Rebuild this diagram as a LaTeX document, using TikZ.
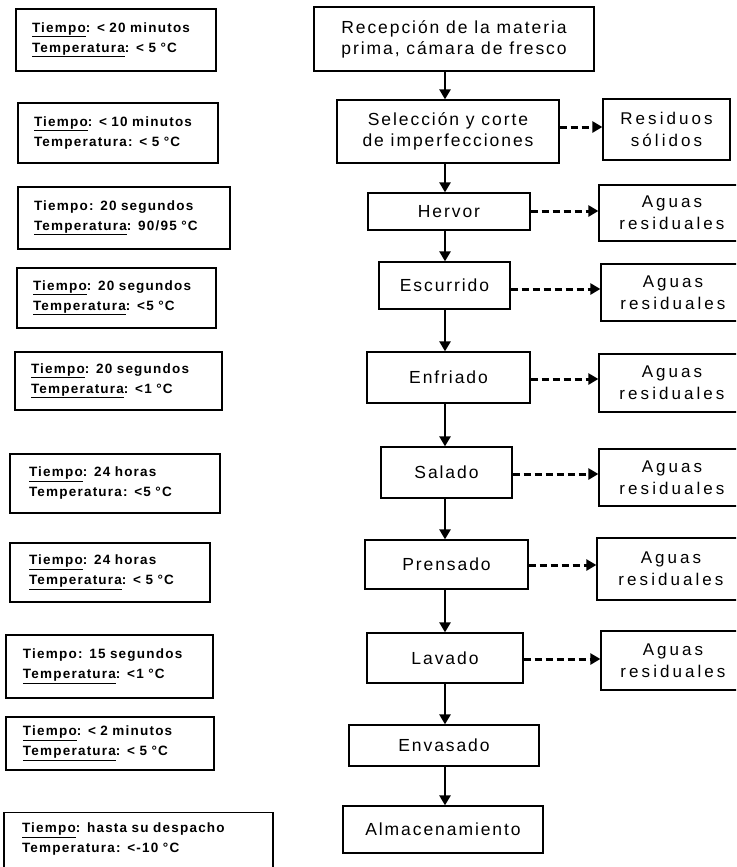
\documentclass[tikz,border=0pt]{standalone}
\usepackage{fontspec}
\setmainfont{Liberation Sans}
\newfontfamily\leftfont[LetterSpace=9]{Liberation Sans}
\newfontfamily\centerfont[LetterSpace=11]{Liberation Sans}
\newfontfamily\rightfont[LetterSpace=18]{Liberation Sans}
\usetikzlibrary{arrows.meta}
\tikzset{
  box/.style={draw, line width=1.3pt, rectangle, inner sep=0pt},
  procbox/.style={box, align=center, font=\centerfont\fontsize{17.5}{21}\selectfont},
  wastebox/.style={box, align=center, font=\rightfont\fontsize{17}{22}\selectfont},
  condbox/.style={box, align=left, inner xsep=16pt, font=\leftfont\bfseries\fontsize{13.5}{20}\selectfont},
  flow/.style={line width=2.6pt, -{Triangle[length=10pt,width=11pt]}},
  wasteflow/.style={line width=3pt, dash pattern=on 7pt off 4pt, -{Triangle[length=10pt,width=11pt]}}
}
\begin{document}
\begin{tikzpicture}[x=1pt,y=-1pt]
\useasboundingbox (0,0) rectangle (736,867);
\clip (0,0) rectangle (736,867);
% process column
\node[procbox, minimum width=280pt, minimum height=64pt] (c1) at (454,39) {Recepción de la materia\\prima, cámara de fresco};
\node[procbox, minimum width=222pt, minimum height=63pt] (c2) at (448,131.5) {Selección y corte\\de imperfecciones};
\node[procbox, minimum width=162pt, minimum height=37pt] (c3) at (449,211.5) {Hervor};
\node[procbox, minimum width=131pt, minimum height=47pt] (c4) at (444.5,285.5) {Escurrido};
\node[procbox, minimum width=163pt, minimum height=51pt] (c5) at (448.5,377.5) {Enfriado};
\node[procbox, minimum width=131pt, minimum height=51pt] (c6) at (446.5,472.5) {Salado};
\node[procbox, minimum width=163pt, minimum height=49pt] (c7) at (446.5,564.5) {Prensado};
\node[procbox, minimum width=156pt, minimum height=50pt] (c8) at (445,658) {Lavado};
\node[procbox, minimum width=190pt, minimum height=41pt] (c9) at (444,745.5) {Envasado};
\node[procbox, minimum width=200pt, minimum height=47pt] (c10) at (443,829.5) {Almacenamiento};
% waste column
\node[wastebox, minimum width=127pt, minimum height=61pt] (r1) at (666.5,129.5) {Residuos\\sólidos};
\node[wastebox, minimum width=146pt, minimum height=56pt] (r2) at (672,213) {Aguas\\residuales};
\node[wastebox, minimum width=144pt, minimum height=57pt] (r3) at (673,292.5) {Aguas\\residuales};
\node[wastebox, minimum width=146pt, minimum height=58pt] (r4) at (672,383) {Aguas\\residuales};
\node[wastebox, minimum width=146pt, minimum height=57pt] (r5) at (672,477.5) {Aguas\\residuales};
\node[wastebox, minimum width=148pt, minimum height=62pt] (r6) at (671,569) {Aguas\\residuales};
\node[wastebox, minimum width=144pt, minimum height=59pt] (r7) at (673,660.5) {Aguas\\residuales};
% condition column
\node[condbox, text width=168pt, minimum height=62pt] (l1) at (116,40) {\underline{Tiempo}: < 20 minutos\\\underline{Temperatura}: < 5 °C};
\node[condbox, text width=168pt, minimum height=60pt] (l2) at (118,133) {\underline{Tiempo}: < 10 minutos\\Temperatura: < 5 °C};
\node[condbox, text width=180pt, minimum height=62pt] (l3) at (124,218) {Tiempo: 20 segundos\\\underline{Temperatura}: 90/95 °C};
\node[condbox, text width=167pt, minimum height=60pt] (l4) at (116.5,298) {\underline{Tiempo}: 20 segundos\\\underline{Temperatura}: <5 °C};
\node[condbox, text width=175pt, minimum height=58pt] (l5) at (118.5,381) {\underline{Tiempo}: 20 segundos\\\underline{Temperatura}: <1 °C};
\node[condbox, text width=172pt, inner xsep=19pt, minimum height=59pt] (l6) at (115,483.5) {\underline{Tiempo}: 24 horas\\Temperatura: <5 °C};
\node[condbox, text width=162pt, inner xsep=19pt, minimum height=59pt] (l7) at (110,572.5) {\underline{Tiempo}: 24 horas\\\underline{Temperatura}: < 5 °C};
\node[condbox, text width=173pt, inner xsep=17pt, minimum height=63pt] (l8) at (109.5,666.5) {Tiempo: 15 segundos\\\underline{Temperatura}: <1 °C};
\node[condbox, text width=174pt, inner xsep=17pt, minimum height=53pt] (l9) at (110,743.5) {\underline{Tiempo}: < 2 minutos\\\underline{Temperatura}: < 5 °C};
\node[condbox, text width=233pt, inner xsep=18pt, minimum height=70pt, anchor=north] (l10) at (138.5,812) {\underline{Tiempo}: hasta su despacho\\Temperatura: <-10 °C\\\mbox{}};
% main flow
\coordinate (sp) at (445,0);
\draw[flow] (c1.south -| sp) -- (c2.north -| sp);
\draw[flow] (c2.south -| sp) -- (c3.north -| sp);
\draw[flow] (c3.south -| sp) -- (c4.north -| sp);
\draw[flow] (c4.south -| sp) -- (c5.north -| sp);
\draw[flow] (c5.south -| sp) -- (c6.north -| sp);
\draw[flow] (c6.south -| sp) -- (c7.north -| sp);
\draw[flow] (c7.south -| sp) -- (c8.north -| sp);
\draw[flow] (c8.south -| sp) -- (c9.north -| sp);
\draw[flow] (c9.south -| sp) -- (c10.north -| sp);
% waste flows
\coordinate (w1) at (0,127);
\coordinate (w2) at (0,211);
\coordinate (w3) at (0,289);
\coordinate (w4) at (0,379);
\coordinate (w5) at (0,474);
\coordinate (w6) at (0,565);
\coordinate (w7) at (0,659);
\draw[wasteflow] (c2.east |- w1) -- (r1.west |- w1);
\draw[wasteflow] (c3.east |- w2) -- (r2.west |- w2);
\draw[wasteflow] (c4.east |- w3) -- (r3.west |- w3);
\draw[wasteflow] (c5.east |- w4) -- (r4.west |- w4);
\draw[wasteflow] (c6.east |- w5) -- (r5.west |- w5);
\draw[wasteflow] (c7.east |- w6) -- (r6.west |- w6);
\draw[wasteflow] (c8.east |- w7) -- (r7.west |- w7);
\end{tikzpicture}
\end{document}
